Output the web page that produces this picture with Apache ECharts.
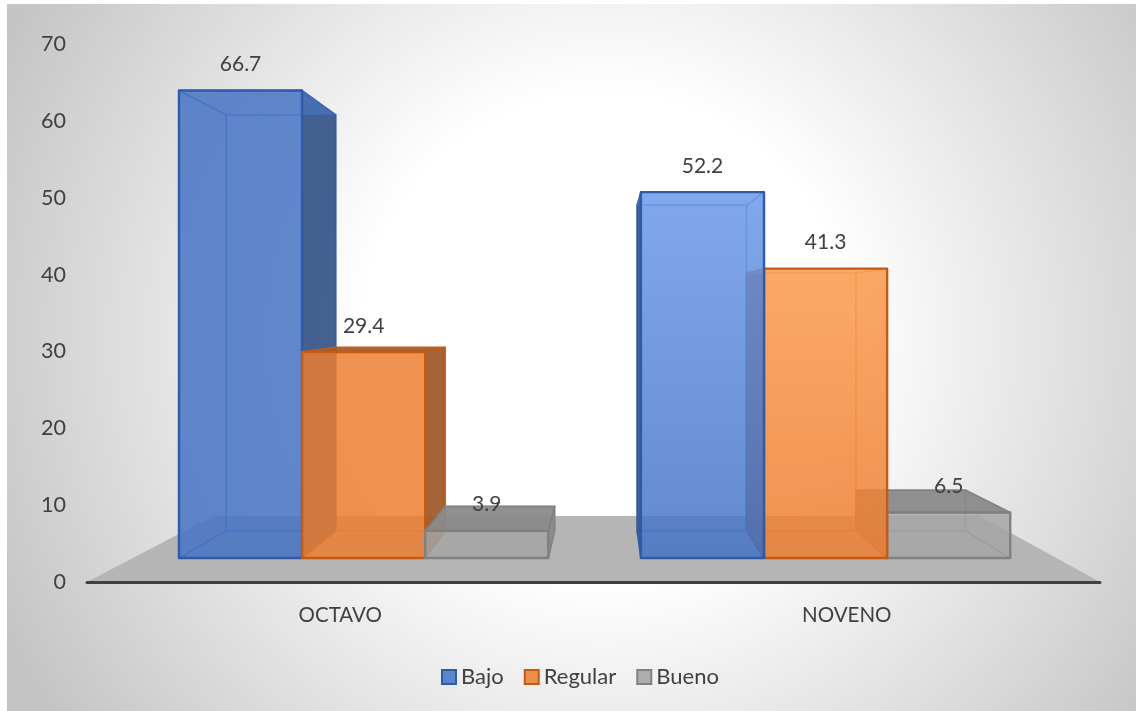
<!DOCTYPE html>
<html>
<head>
<meta charset="utf-8">
<style>
  html, body { margin: 0; padding: 0; background: #ffffff; }
  #chart { width: 1136px; height: 711px; }
</style>
<script src="https://cdn.jsdelivr.net/npm/echarts@6/dist/echarts.min.js"></script>
</head>
<body>
<div id="chart"></div>
<script>
// Chart data
const categories = ['OCTAVO', 'NOVENO'];
const bajo = [66.7, 52.2];
const regular = [29.4, 41.3];
const bueno = [3.9, 6.5];
const yTicks = { min: 0, max: 70, step: 10 };

// Perspective of the 3D box: vanishing point and depth scales
const VP = { x: 606, y: 310 };
const FRONT = 0.912;   // scale of the bars' front plane
const BACK = 0.811;    // scale of the bars' rear plane
const FLOOR_BACK = 0.757;
const BAR_SHARE = 0.2665;

// Face shading per series: fill at the light and dark sides, edge colours
const SHADES = {
  Bajo:    { fill: '#4472c4', lightTop: '#78a7f7', outer: '#3a5685', edge: '#2f5aa6', inner: 'rgba(52,102,190,0.7)', swatch: '#5c86cc' },
  Regular: { fill: '#ed7d31', lightTop: '#ffa353', outer: '#99592e', edge: '#c55a11', inner: 'rgba(232,118,40,0.7)', swatch: '#ef8d4f' },
  Bueno:   { fill: '#a5a5a5', lightTop: '#a5a5a5', outer: '#878787', edge: '#808080', inner: 'rgba(125,125,125,0.6)', swatch: '#adadad' }
};

function project(x, y, s) {
  return [VP.x + s * (x - VP.x), VP.y + s * (y - VP.y)];
}

function boxRenderer(name, k) {
  const shade = SHADES[name];
  return function (params, api) {
    const i = api.value(0);
    const v = api.value(1);
    const base = api.coord([i, 0]);
    const top = api.coord([i, v]);
    const bw = api.size([1, 0])[0] * BAR_SHARE;
    const x0 = base[0] + (k - 1.5) * bw;
    const x1 = x0 + bw;

    const fbl = project(x0, base[1], FRONT), fbr = project(x1, base[1], FRONT);
    const ftl = project(x0, top[1], FRONT), ftr = project(x1, top[1], FRONT);
    const bbl = project(x0, base[1], BACK), bbr = project(x1, base[1], BACK);
    const btl = project(x0, top[1], BACK), btr = project(x1, top[1], BACK);

    // Bars farther from the vanishing point are painted first
    const rightSide = i === 1;
    const order = rightSide ? (2 - k) : k;
    const z = 10 + order * 10;

    const leftOuter = x0 > VP.x;
    const rightOuter = x1 < VP.x;
    const topOuter = top[1] > VP.y;

    const poly = (points, fill, stroke, width, zz) => ({
      type: 'polygon',
      z2: z + zz,
      shape: { points },
      style: { fill, stroke, lineWidth: width, lineJoin: 'round' }
    });

    const light = rightSide
      ? { type: 'linear', x: 0, y: 0, x2: 0, y2: 1, colorStops: [
          { offset: 0, color: shade.lightTop }, { offset: 1, color: shade.fill } ] }
      : shade.fill;

    const face = (points, outer, zz) => {
      const el = poly(points, outer ? shade.outer : shade.fill,
        outer ? shade.edge : shade.inner, outer ? 1.6 : 1.4, zz);
      el.style.opacity = outer ? 0.88 : 0.6;
      return el;
    };

    const children = [
      face([bbl, bbr, btr, btl], false, 0),
      face([fbl, bbl, bbr, fbr], false, 1),
      face([fbl, bbl, btl, ftl], leftOuter, 2),
      face([fbr, bbr, btr, ftr], rightOuter, 3),
      face([ftl, btl, btr, ftr], topOuter, 4)
    ];

    const front = poly([fbl, fbr, ftr, ftl], light, null, 0, 5);
    front.style.opacity = 0.6;
    children.push(front);
    children.push({
      type: 'polygon', z2: z + 6, shape: { points: [fbl, fbr, ftr, ftl] },
      style: { fill: 'none', stroke: shade.edge, lineWidth: 2.4, lineJoin: 'round' }
    });
    children.push({
      type: 'text', z2: 100,
      style: {
        x: (ftl[0] + ftr[0]) / 2,
        y: ftl[1] - 26,
        text: v.toFixed(1),
        fill: '#404040',
        font: '21px Lato',
        align: 'center',
        verticalAlign: 'middle'
      }
    });
    return { type: 'group', children };
  };
}

// Floor of the 3D box, spanning the category axis
function floorRenderer(params, api) {
  const cs = params.coordSys;
  const y = api.coord([0, 0])[1];
  const l = project(cs.x, y, 1), r = project(cs.x + cs.width, y, 1);
  const bl = project(cs.x, y, FLOOR_BACK), br = project(cs.x + cs.width, y, FLOOR_BACK);
  return {
    type: 'polygon', z2: 1,
    shape: { points: [l, r, br, bl] },
    style: { fill: '#b5b5b5' }
  };
}

function makeSeries(name, values, k) {
  return {
    name,
    type: 'custom',
    coordinateSystem: 'cartesian2d',
    renderItem: boxRenderer(name, k),
    encode: { x: 0, y: 1 },
    data: values.map((v, i) => [i, v]),
    clip: false,
    itemStyle: { color: SHADES[name].swatch, borderColor: SHADES[name].edge, borderWidth: 2 }
  };
}

const chart = echarts.init(document.getElementById('chart'), null, { renderer: 'canvas' });
chart.setOption({
  animation: false,
  backgroundColor: '#ffffff',
  graphic: [{
    type: 'rect', z: -10, silent: true,
    shape: { x: 7, y: 4, width: 1129, height: 707 },
    style: {
      fill: {
        type: 'radial', x: 0.53, y: 0.47, r: 0.95,
        colorStops: [
          { offset: 0, color: '#ffffff' },
          { offset: 0.36, color: '#ffffff' },
          { offset: 1, color: '#c4c4c4' }
        ]
      }
    }
  }],
  grid: { left: 87, right: 36, top: 44, bottom: 129, containLabel: false },
  xAxis: {
    type: 'category',
    data: categories,
    axisTick: { show: false },
    axisLine: { lineStyle: { color: '#404040', width: 3, cap: 'round' } },
    axisLabel: { color: '#404040', fontFamily: 'Lato', fontSize: 20.5, margin: 23 },
    z: 50
  },
  yAxis: {
    type: 'value',
    min: yTicks.min,
    max: yTicks.max,
    interval: yTicks.step,
    axisLine: { show: false },
    axisTick: { show: false },
    splitLine: { show: false },
    axisLabel: { color: '#404040', fontFamily: 'Lato', fontSize: 21.5, margin: 21, padding: [2, 0, 0, 0] }
  },
  legend: {
    data: ['Bajo', 'Regular', 'Bueno'],
    left: 436,
    top: 661,
    icon: 'rect',
    itemWidth: 14,
    itemHeight: 14,
    itemGap: 20,
    textStyle: { color: '#404040', fontFamily: 'Lato', fontSize: 22 }
  },
  series: [
    { name: 'Piso', type: 'custom', coordinateSystem: 'cartesian2d', renderItem: floorRenderer,
      encode: { x: 0, y: 1 }, data: [[0, 0]], clip: false, silent: true },
    makeSeries('Bajo', bajo, 0),
    makeSeries('Regular', regular, 1),
    makeSeries('Bueno', bueno, 2)
  ]
});
</script>
</body>
</html>
